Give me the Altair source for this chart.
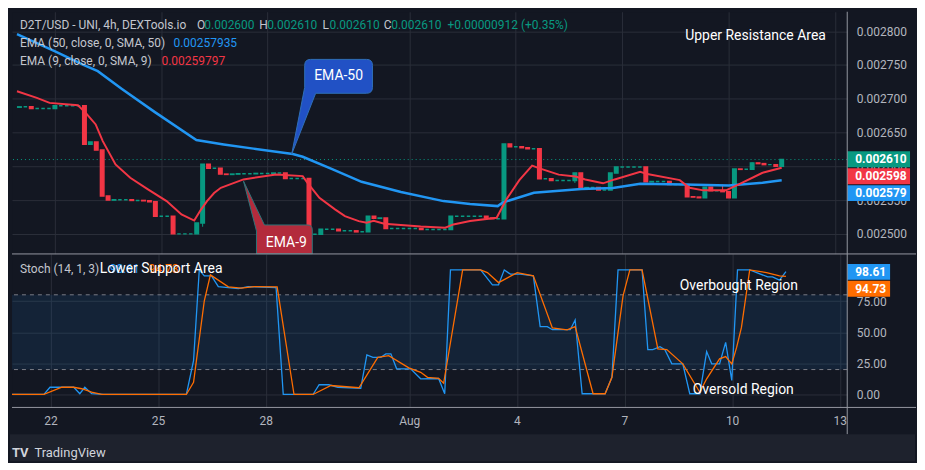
import altair as alt
import pandas as pd

# ---------------- data ----------------
bar_start_day = 21.0          # first visible 4h candle: 21 Jul 00:00 (day 21)
bars_per_day = 6
first_open = 0.0026875
closes = [
    0.002688, 0.002688, 0.0026855, 0.0026855, 0.0026855, 0.0026855,
    0.0026895, 0.0026895, 0.0026895, 0.0026895, 0.0026895, 0.0026325,
    0.002636, 0.002624, 0.002556, 0.00255, 0.0025505, 0.0025505,
    0.0025505, 0.0025495, 0.0025495, 0.002549, 0.0025475, 0.002526,
    0.002526, 0.002526, 0.0025, 0.0025, 0.0025, 0.0025,
    0.002516, 0.002603, 0.002597, 0.002597, 0.0025885, 0.002588,
    0.0025885, 0.002589, 0.002589, 0.002589, 0.0025895, 0.0025895,
    0.0025895, 0.00259, 0.00259, 0.002582, 0.002582, 0.002582,
    0.002582, 0.0024995, 0.0024995, 0.002507, 0.002507, 0.002507,
    0.0025045, 0.0025045, 0.0025045, 0.002503, 0.002503, 0.002526,
    0.002523, 0.0025235, 0.002508, 0.002508, 0.002508, 0.002508,
    0.002508, 0.002508, 0.0025065, 0.0025065, 0.0025065, 0.0025065,
    0.0025065, 0.002526, 0.002526, 0.002526, 0.002526, 0.002526,
    0.002526, 0.0025235, 0.0025225, 0.0025225, 0.002633, 0.002629,
    0.002629, 0.0026275, 0.002626, 0.002626, 0.0025815, 0.0025815,
    0.002579, 0.002579, 0.002579, 0.002579, 0.00259, 0.002568,
    0.0025685, 0.0025685, 0.002565, 0.002565, 0.00259, 0.002599,
    0.002599, 0.002599, 0.002599, 0.002599, 0.002577, 0.0025775,
    0.0025775, 0.0025775, 0.002573, 0.002573, 0.002573, 0.002555,
    0.0025545, 0.0025535, 0.002569, 0.002564, 0.002564, 0.0025625,
    0.0025535, 0.002596, 0.0025955, 0.0025955, 0.002605, 0.002604,
    0.0026025, 0.0026025, 0.0026, 0.00261,
]
wick_index = [31, 94, 119, 124]
wick_low = [0.0025105, 0.0025754, 0.002564, 0.002605]
wick_high = [0.002516, 0.002579, 0.002573, 0.002606]
last_price = [0.00261]

ema50_day = [20.93, 21.99, 22.82, 23.21, 23.90, 24.82, 25.99, 26.76, 27.60, 28.71,
             28.99, 29.82, 30.65, 31.76, 32.96, 33.71, 34.49, 34.63, 35.51, 36.85,
             37.74, 38.51, 39.74, 41.01, 41.96, 42.5]
ema50_val = [0.0027956, 0.0027704, 0.0027497, 0.0027408, 0.0027142, 0.0026802,
             0.0026388, 0.0026324, 0.0026262, 0.0026181, 0.0026141, 0.0025959,
             0.0025771, 0.0025619, 0.0025485, 0.0025441, 0.0025411, 0.0025463,
             0.0025608, 0.0025663, 0.0025678, 0.0025741, 0.0025732, 0.0025717,
             0.0025756, 0.0025794]

ema9_day = [20.93, 21.49, 21.85, 22.65, 22.875, 23.15, 23.35, 23.71, 24.125, 24.625,
            25.15, 25.57, 25.93, 26.125, 26.29, 26.49, 26.68, 26.96, 27.32, 28.24,
            28.99, 29.125, 29.46, 29.90, 30.18, 30.57, 30.79, 30.99, 31.29, 32.32,
            33.01, 33.24, 33.71, 34.46, 34.74, 35.10, 35.46, 35.65, 36.21, 36.68,
            36.96, 37.46, 37.79, 38.51, 38.71, 39.625, 39.90, 40.29, 40.93, 41.29,
            41.96, 42.5]
ema9_val = [0.0027112, 0.0027013, 0.0026939, 0.0026905, 0.0026787, 0.002662,
            0.0026373, 0.0026028, 0.002583, 0.0025658, 0.0025485, 0.0025288,
            0.0025197, 0.0025363, 0.0025485, 0.0025604, 0.0025682, 0.0025737,
            0.0025806, 0.002588, 0.0025855, 0.0025756, 0.0025534, 0.0025363,
            0.0025263, 0.0025189, 0.0025164, 0.0025192, 0.0025149, 0.0025108,
            0.002509, 0.002514, 0.0025189, 0.0025238, 0.0025515, 0.0025796,
            0.002601, 0.0025973, 0.0025877, 0.0025848, 0.0025806, 0.0025748,
            0.0025806, 0.0025919, 0.0025885, 0.0025796, 0.0025682, 0.0025644,
            0.0025644, 0.0025732, 0.0025904, 0.002598]

stoch_k_day = [20.93, 21.82, 21.99, 22.65, 22.82, 22.96, 23.15, 23.49, 25.79, 25.99,
               26.15, 26.29, 26.49, 26.68, 27.24, 27.51, 28.29, 28.49, 29.32, 29.49,
               29.76, 30.01, 30.65, 30.82, 30.99, 31.21, 31.35, 31.49, 31.65, 32.04,
               32.32, 32.82, 32.99, 33.15, 33.99, 34.32, 34.49, 34.65, 34.82, 35.10,
               35.46, 35.65, 35.85, 35.99, 36.49, 36.625, 36.82, 37.46, 37.65, 37.82,
               38.49, 38.65, 38.79, 38.99, 39.125, 39.32, 39.625, 39.82, 40.10, 40.29,
               40.43, 40.65, 40.82, 40.99, 41.15, 41.49, 41.99, 42.125, 42.32, 42.5]
stoch_k_val = [0, 0, 5.8, 5.8, 0.6, 5.8, 0.6, 0, 0, 27.2,
               100, 95.2, 95.2, 86.6, 85.0, 86.6, 85.8, 0, 0, 7.8,
               7.8, 5.8, 5.0, 31.8, 29.8, 29.8, 32.6, 32.6, 20.6, 20.6,
               12.6, 12.8, 0.6, 100, 100, 88, 88, 100, 96.6, 96.6,
               95.2, 54.4, 54.4, 52, 52, 59.8, 0.6, 0.6, 13.8, 100,
               100, 36, 36, 38.4, 36, 24.6, 24.6, 0.6, 0.6, 34.4,
               24.6, 24.6, 41.8, 11.2, 100, 100, 94.4, 94.4, 91.8, 98.61]
stoch_d_day = [20.93, 21.82, 22.32, 22.65, 22.875, 23.15, 23.43, 25.79, 25.99, 26.29,
               26.46, 26.96, 27.32, 27.68, 28.32, 28.79, 29.32, 29.82, 30.60, 31.125,
               31.43, 31.99, 32.32, 32.51, 32.82, 32.96, 33.49, 33.99, 34.18, 34.49,
               35.01, 35.46, 35.99, 36.40, 36.625, 37.125, 37.46, 37.65, 37.96, 38.15,
               38.49, 38.93, 39.18, 39.625, 40.10, 40.29, 40.65, 40.82, 40.99, 41.125,
               41.26, 41.49, 41.96, 42.32, 42.5]
stoch_d_val = [0, 0, 5.8, 5.8, 4.6, 1.8, 0, 0, 9.8, 75.2,
               96, 86.4, 85.4, 86.6, 86.4, 0, 0, 7.2, 5.4, 29.8,
               31.2, 21.4, 17.8, 13.8, 13, 9, 100, 100, 97.8, 89.8,
               97.8, 95.2, 53.4, 51.8, 54.4, 0.6, 0.6, 13.8, 79.2, 100,
               100, 36.6, 36, 24.6, 1.8, 12.6, 28.6, 30.4, 24.6, 37.8,
               53.8, 100, 97.8, 95.2, 94.73]

band_low = [20]
band_high = [80]
band_lines = [20, 80]

price_ticks = [0.0025, 0.00255, 0.0026, 0.00265, 0.0027, 0.00275, 0.0028]
stoch_ticks = [0, 25, 50, 75]
day_ticks = [22, 25, 28, 32, 35, 38, 41, 44]
day_labels = ["22", "25", "28", "Aug", "4", "7", "10", "13"]

ema50_tip = {"day": [28.68], "price": [0.0026181]}
ema9_tip = {"day": [27.32], "price": [0.0025781]}

# ---------------- tables ----------------
n = len(closes)
opens = [first_open] + closes[:-1]
candles = pd.DataFrame({
    "day": [bar_start_day + i / bars_per_day for i in range(n)],
    "open": opens,
    "close": closes,
})
candles["dir"] = ["up" if c >= o else "down" for o, c in zip(opens, closes)]
wicks = pd.DataFrame({
    "day": [candles["day"][i] for i in wick_index],
    "low": wick_low,
    "high": wick_high,
    "dir": [candles["dir"][i] for i in wick_index],
})
ema50 = pd.DataFrame({"day": ema50_day, "v": ema50_val})
ema9 = pd.DataFrame({"day": ema9_day, "v": ema9_val})
stk = pd.DataFrame({"day": stoch_k_day, "v": stoch_k_val})
std = pd.DataFrame({"day": stoch_d_day, "v": stoch_d_val})

# ---------------- styling ----------------
W, H_TOP, H_BOT = 838, 243, 154
GREEN, RED, BLUE, ORANGE = "#089981", "#f23645", "#2196f3", "#ff6d00"
GRID, AXTXT, LINE = "#2a2e39", "#b2b5be", "#9598a1"
FONT = "Roboto"

xs = alt.Scale(domain=[20.93, 44.208], nice=False, zero=False)
ps = alt.Scale(domain=[0.0024703, 0.0028288], nice=False, zero=False)
ss = alt.Scale(domain=[-10.4, 112.8], nice=False, zero=False)
cscale = alt.Scale(domain=["up", "down"], range=[GREEN, RED])

expr = "''"
for d, lab in zip(reversed(day_ticks), reversed(day_labels)):
    expr = f"datum.value == {d} ? '{lab}' : ({expr})"


def X(field, labels=False):
    return alt.X(f"{field}:Q", scale=xs, axis=alt.Axis(
        values=day_ticks, labels=labels, labelExpr=expr, grid=True, ticks=False,
        domain=False, title=None, labelPadding=8))


def YP(field):
    return alt.Y(f"{field}:Q", scale=ps, axis=alt.Axis(
        orient="right", values=price_ticks, format=".6f", grid=True, ticks=False,
        domain=False, labelPadding=9, title=None))


def YS(field):
    return alt.Y(f"{field}:Q", scale=ss, axis=alt.Axis(
        orient="right", values=stoch_ticks, format=".2f", grid=True, ticks=False,
        domain=False, labelPadding=9, title=None))


def label(text, x, y, color, size=12, weight="normal", align="left"):
    return alt.Chart(pd.DataFrame({"s": [text]})).mark_text(
        font=FONT, fontSize=size, fontWeight=weight, color=color, align=align,
        baseline="middle").encode(x=alt.value(x), y=alt.value(y), text="s:N")


def box(x1, x2, y1, y2, color):
    return alt.Chart(pd.DataFrame({"a": [0]})).mark_rect(color=color).encode(
        x=alt.value(x1), x2=alt.value(x2), y=alt.value(y1), y2=alt.value(y2))


def hline(x1, x2, y, color):
    return alt.Chart(pd.DataFrame({"a": [0]})).mark_rule(color=color, strokeWidth=1).encode(
        x=alt.value(x1), x2=alt.value(x2), y=alt.value(y))


def vline(x, y1, y2, color):
    return alt.Chart(pd.DataFrame({"a": [0]})).mark_rule(color=color, strokeWidth=1).encode(
        x=alt.value(x), y=alt.value(y1), y2=alt.value(y2))


# ---------------- top panel ----------------
wick_layer = alt.Chart(wicks).mark_rule(strokeWidth=1).encode(
    x=X("day"), y=YP("low"), y2=alt.Y2("high"),
    color=alt.Color("dir:N", scale=cscale, legend=None))
body_layer = alt.Chart(candles).mark_bar(size=3.5, strokeWidth=1.5).encode(
    x=X("day"), y=YP("open"), y2=alt.Y2("close"),
    color=alt.Color("dir:N", scale=cscale, legend=None),
    stroke=alt.Stroke("dir:N", scale=cscale, legend=None))
price_line = alt.Chart(pd.DataFrame({"p": last_price})).mark_rule(
    color=GREEN, strokeDash=[1, 3], strokeWidth=1).encode(y=YP("p"))
ema50_line = alt.Chart(ema50).mark_line(color=BLUE, strokeWidth=2.5).encode(x=X("day"), y=YP("v"))
ema9_line = alt.Chart(ema9).mark_line(color=RED, strokeWidth=2).encode(x=X("day"), y=YP("v"))

ema50_shape = alt.Chart(pd.DataFrame(ema50_tip)).mark_point(
    shape="M0,0 L13,-67 L13,-89 Q13,-95 19,-95 L75,-95 Q81,-95 81,-89 L81,-67 Q81,-61 75,-61 L24,-61 Z",
    size=4, filled=True, fill="#2151c5", stroke="#2f6fb8", strokeWidth=1, opacity=1).encode(
    x=X("day"), y=YP("price"))
ema50_text = alt.Chart(pd.DataFrame(ema50_tip)).mark_text(
    text="EMA-50", font=FONT, fontSize=14, color="white", dx=47, dy=-78).encode(
    x=X("day"), y=YP("price"))
ema9_shape = alt.Chart(pd.DataFrame(ema9_tip)).mark_point(
    shape="M0,0 L21,44 L64,44 Q69,44 69,49 L69,73 L13,73 L13,50 Z",
    size=4, filled=True, fill="#b32b3c", stroke="#2f7378", strokeWidth=1, opacity=1).encode(
    x=X("day"), y=YP("price"))
ema9_text = alt.Chart(pd.DataFrame(ema9_tip)).mark_text(
    text="EMA-9", font=FONT, fontSize=14, color="white", dx=43, dy=62).encode(
    x=X("day"), y=YP("price"))

HDR = "#c3c6ce"
top_texts = [
    label("D2T/USD - UNI, 4h, DEXTools.io", 8, 13, HDR),
    label("O", 185.5, 13, HDR), label("0.002600", 193, 13, GREEN),
    label("H", 248, 13, HDR), label("0.002610", 256, 13, GREEN),
    label("L", 311.5, 13, HDR), label("0.002610", 318.5, 13, GREEN),
    label("C", 373, 13, HDR), label("0.002610", 380.5, 13, GREEN),
    label("+0.00000912 (+0.35%)", 437, 13, GREEN),
    label("EMA (50, close, 0, SMA, 50)", 8, 31, HDR), label("0.00257935", 162, 31, BLUE),
    label("EMA (9, close, 0, SMA, 9)", 8, 49, HDR), label("0.00259797", 150, 49, RED),
    label("Upper Resistance Area", 746, 24, "white", size=14, align="center"),
    box(838, 901, 140, 156, GREEN), label("0.002610", 846, 148, "white", weight="bold"),
    box(838, 901, 157, 173, RED), label("0.002598", 846, 165, "white", weight="bold"),
    box(838, 901, 174, 190, BLUE), label("0.002579", 846, 182, "white", weight="bold"),
]

top = alt.layer(
    price_line, wick_layer, body_layer, ema50_line, ema9_line,
    ema50_shape, ema50_text, ema9_shape, ema9_text, *top_texts
).properties(width=W, height=H_TOP)

# ---------------- bottom panel ----------------
band = alt.Chart(pd.DataFrame({"lo": band_low, "hi": band_high})).mark_rect(
    color=BLUE, opacity=0.1).encode(x=alt.value(0), x2=alt.value(W), y=YS("lo"), y2=alt.Y2("hi"))
band_rules = alt.Chart(pd.DataFrame({"lv": band_lines})).mark_rule(
    color="#787b86", strokeDash=[4, 4], strokeWidth=1).encode(y=YS("lv"))
k_line = alt.Chart(stk).mark_line(color=BLUE, strokeWidth=1.3).encode(x=X("day", True), y=YS("v"))
d_line = alt.Chart(std).mark_line(color=ORANGE, strokeWidth=1.3).encode(x=X("day", True), y=YS("v"))

bottom_texts = [
    label("Stoch (14, 1, 3)", 8, 15, HDR),
    label("98.61", 98, 15, BLUE), label("94.73", 137, 15, ORANGE),
    label("Lower Support Area", 88, 15, "white", size=14),
    label("Overbought Region", 670, 32, "white", size=14),
    label("Oversold Region", 683, 137, "white", size=14),
    box(838, 881, 10, 26, BLUE), label("98.61", 846, 18, "white", weight="bold"),
    box(838, 881, 27, 43, ORANGE), label("94.73", 846, 35, "white", weight="bold"),
    hline(0, 907, 0, LINE),
    hline(0, 907, H_BOT, LINE),
    vline(W, -H_TOP, 181, LINE),
    box(-2, 906, 181, 208, "#1e222d"),
    label("TV", 0, 199.5, "#d1d4dc", size=13, weight="bold"),
    label("TradingView", 22.5, 199.5, "#d1d4dc", size=13),
]

bottom = alt.layer(band, band_rules, k_line, d_line, *bottom_texts).properties(width=W, height=H_BOT)

chart = alt.vconcat(
    top, bottom, spacing=0, bounds="flush",
    padding={"left": 0, "top": 2, "right": 0, "bottom": 0},
).configure(background="#131722").configure_view(
    fill="#131722", stroke="transparent"
).configure_axis(
    labelFont=FONT, labelFontSize=12, labelColor=AXTXT, gridColor=GRID, gridWidth=1
)

chart.save("out.html", embed_options={"renderer": "svg", "actions": False})
